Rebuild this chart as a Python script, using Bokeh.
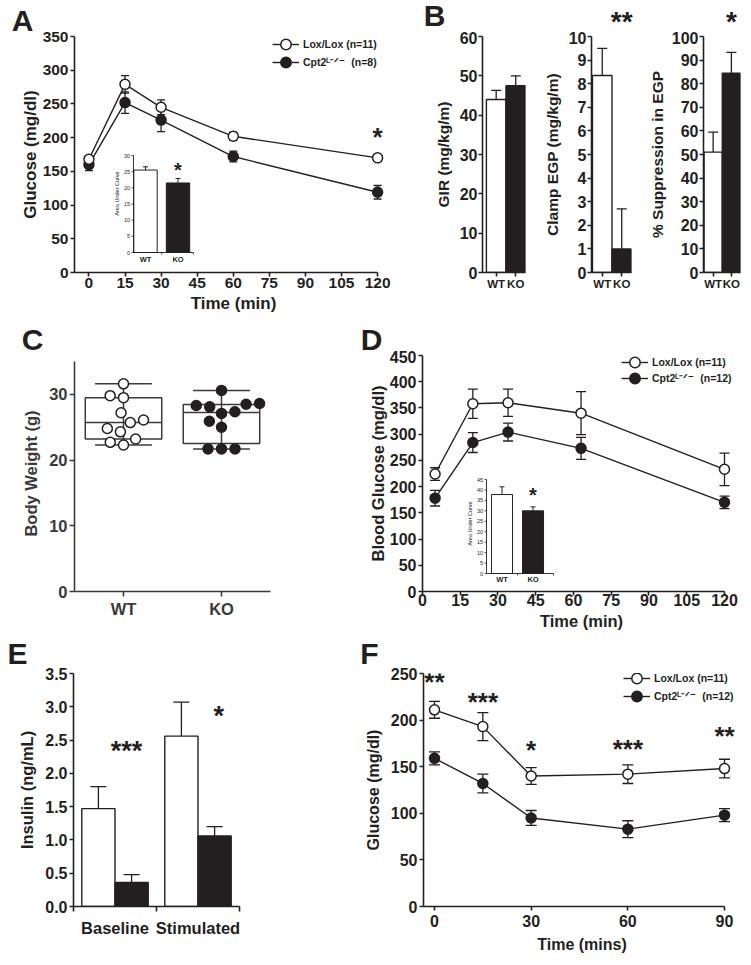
import numpy as np
from bokeh.plotting import figure
from bokeh.models import (Range1d, FixedTicker, Whisker, TeeHead, ColumnDataSource,
                          Legend, LegendItem, Label, NumeralTickFormatter)
from bokeh.layouts import row, column
from bokeh.embed import file_html
from bokeh.resources import INLINE
from bokeh.core.properties import value

FONT = "Liberation Sans"
K = "#231f20"
DG = "#3a3a3a"
PAGE_W = 751
STAR_SHIFT = 0.2   # asterisk ink centre sits this many em above the label anchor

# ---------------- data ----------------
LEG_LOX = "Lox/Lox (n=11)"
LEG_KO_A = "Cpt2\u1d38\u207b\u141f\u207b\u00a0\u00a0(n=8)"
LEG_KO_DF = "Cpt2\u1d38\u207b\u141f\u207b\u00a0\u00a0(n=12)"

# A: glucose tolerance
A_time = [0, 15, 30, 60, 120]
A_lox = [168, 279, 245, 202, 170]
A_lox_err = [5, 13, 11, 6, 3]
A_ko = [160, 252, 226, 172, 119]
A_ko_err = [9, 16, 17, 8, 10]
A_xticks = [0, 15, 30, 45, 60, 75, 90, 105, 120]
A_yticks = [0, 50, 100, 150, 200, 250, 300, 350]
A_sig = ["*"]
A_sig_x = [120]
A_sig_y = [208]
AUC_groups = ["WT", "KO"]
A_auc = [25.5, 21.5]
A_auc_err = [1.0, 1.4]
A_auc_ticks = [0, 5, 10, 15, 20, 25, 30]
A_auc_sig_y = 26.6

# B: clamp
B_groups = ["WT", "KO"]
B_gir = [44.0, 47.5]
B_gir_err = [2.3, 2.5]
B_egp = [8.35, 1.0]
B_egp_err = [1.15, 1.7]
B_sup = [51.0, 84.5]
B_sup_err = [8.5, 8.8]
B_egp_sig = "**"
B_sup_sig = "*"

# C: body weight
C_groups = ["WT", "KO"]
C_wt = [31.6, 29.8, 29.5, 27.2, 25.7, 26.1, 24.8, 24.3, 23.2, 22.3, 22.7]
C_ko = [30.6, 28.6, 28.3, 28.1, 28.5, 27.35, 27.1, 25.9, 25.0, 21.7, 21.7, 21.7]

# D: blood glucose
D_time = [5, 20, 34, 63, 120]
D_lox = [224, 358, 360, 340, 233]
D_lox_err = [12, 28, 26, 41, 31]
D_ko = [178, 284, 304, 273, 170]
D_ko_err = [15, 19, 17, 21, 12]
D_xticks = [0, 15, 30, 45, 60, 75, 90, 105, 120]
D_yticks = [0, 50, 100, 150, 200, 250, 300, 350, 400, 450]
D_auc = [37.8, 30.0]
D_auc_err = [3.7, 1.9]
D_auc_ticks = [0, 5, 10, 15, 20, 25, 30, 35, 40, 45]
D_auc_sig_y = 39.7

# E: insulin
E_groups = ["Baseline", "Stimulated"]
E_wt = [1.47, 2.56]
E_wt_err = [0.33, 0.51]
E_ko = [0.36, 1.06]
E_ko_err = [0.12, 0.14]
E_yticks = [0, 0.5, 1.0, 1.5, 2.0, 2.5, 3.0, 3.5]
E_sig = ["***", "*"]
E_sig_x = [0.14, 1.25]
E_sig_y = [2.41, 2.94]

# F: glucose (mins)
F_time = [0, 15, 30, 60, 90]
F_lox = [211, 193, 140, 142, 148]
F_lox_err = [9, 15, 9, 10, 10]
F_ko = [159, 132, 95, 83, 98]
F_ko_err = [7, 10, 8, 9, 7]
F_xticks = [0, 30, 60, 90]
F_yticks = [0, 50, 100, 150, 200, 250]
F_sig = ["**", "***", "*", "***", "**"]
F_sig_y = [246, 225, 173, 175, 188]


# ---------------- helpers ----------------
class Panel:
    def __init__(self, box, frame, xr, yr):
        self.box, self.frame, self.xr, self.yr = box, frame, xr, yr
        bx0, bx1, by0, by1 = box
        fx0, fx1, fy0, fy1 = frame
        p = figure(width=bx1 - bx0, height=by1 - by0, x_range=Range1d(*xr), y_range=Range1d(*yr),
                   output_backend="svg", toolbar_location=None, tools="", title=None)
        p.min_border_left = fx0 - bx0
        p.min_border_right = bx1 - fx1
        p.min_border_top = fy0 - by0
        p.min_border_bottom = by1 - fy1
        p.outline_line_color = None
        p.xgrid.grid_line_color = None
        p.ygrid.grid_line_color = None
        p.background_fill_color = "white"
        p.border_fill_color = "white"
        self.p = p
        self.xpu = (fx1 - fx0) / (xr[1] - xr[0])
        self.ypu = (fy1 - fy0) / (yr[1] - yr[0])

    def px(self, x):
        return self.frame[0] + (x - self.xr[0]) * self.xpu


class Strip:
    def __init__(self, y0, y1):
        self.y0, self.y1 = y0, y1
        p = figure(width=PAGE_W, height=y1 - y0, x_range=Range1d(0, PAGE_W), y_range=Range1d(0, y1 - y0),
                   x_axis_location=None, y_axis_location=None, output_backend="svg",
                   toolbar_location=None, tools="", title=None, min_border=0)
        p.outline_line_color = None
        p.grid.visible = False
        p.background_fill_color = "white"
        p.border_fill_color = "white"
        self.p = p

    def text(self, x, y_mid, text, fs):
        self.p.add_layout(Label(x=x, y=self.y1 - y_mid, text=text, text_font=FONT,
                                text_font_size=f"{fs}px", text_font_style="bold", text_color=K,
                                text_align="center", text_baseline="alphabetic"))


def style_axes(P, tick_fs, label_fs, xstand=(1, 0), ystand=(2, 3), color=K, tick_out=4):
    for ax, (s1, s2) in ((P.p.xaxis[0], xstand), (P.p.yaxis[0], ystand)):
        ax.axis_line_color = color
        ax.axis_line_width = 1.6
        ax.major_tick_line_color = color
        ax.major_tick_line_width = 1.6
        ax.major_tick_out = tick_out
        ax.major_tick_in = 0
        ax.minor_tick_line_color = None
        ax.major_label_text_font = FONT
        ax.major_label_text_font_style = "bold"
        ax.major_label_text_font_size = tick_fs
        ax.major_label_text_color = color
        ax.major_label_standoff = s1
        ax.axis_label_text_font = FONT
        ax.axis_label_text_font_style = "bold"
        ax.axis_label_text_font_size = label_fs
        ax.axis_label_text_color = color
        ax.axis_label_standoff = s2


def add_err(p, src, cap, both=True, lw=1.3, **rn):
    w = Whisker(source=src, base="x", lower="lo", upper="up", dimension="height",
                line_color=K, line_width=lw,
                upper_head=TeeHead(size=cap, line_color=K, line_width=lw),
                lower_head=TeeHead(size=cap, line_color=K, line_width=lw) if both else None,
                level="underlay", **rn)
    p.add_layout(w)


def add_star(p, x, yc, text, fs, ypu, **rn):
    p.add_layout(Label(x=x, y=yc - STAR_SHIFT * fs / ypu, text=text, text_font=FONT,
                       text_font_size=f"{fs}px", text_font_style="bold", text_color=K,
                       text_align="center", text_baseline="alphabetic", **rn))


def draw_curves(P, t, lox, lox_e, ko, ko_e, cap, labels, leg_x, leg_rows):
    p = P.p
    fx0, fx1, fy0, fy1 = P.frame
    rends = []
    for vals, errs, fill in ((ko, ko_e, K), (lox, lox_e, "white")):
        src = ColumnDataSource(dict(x=t, y=vals,
                                    lo=[v - e for v, e in zip(vals, errs)],
                                    up=[v + e for v, e in zip(vals, errs)]))
        add_err(p, src, cap)
        lr = p.line("x", "y", source=src, line_color=K, line_width=1.4)
        sr = p.scatter("x", "y", source=src, marker="circle", size=10, fill_color=fill,
                       line_color=K, line_width=1.5)
        rends.append([lr, sr])
    for lab, rr, ry in ((labels[0], rends[1], leg_rows[0]), (labels[1], rends[0], leg_rows[1])):
        leg = Legend(items=[LegendItem(label=lab, renderers=rr)],
                     location=(leg_x - fx0, fy1 - ry - 13),
                     glyph_width=27, glyph_height=26, spacing=0,
                     padding=0, margin=0, label_standoff=4, label_text_font=FONT,
                     label_text_font_size="10.5px", label_text_font_style="bold",
                     label_text_color=K, background_fill_alpha=0, border_line_alpha=0)
        p.add_layout(leg)


def swarm(vals, xpu, ypu, gap):
    order = np.argsort(vals, kind="stable")
    placed = []
    offs = [0.0] * len(vals)
    for i in order:
        y = vals[i] * ypu
        iv = []
        for py, px in placed:
            d = abs(y - py)
            if d < gap:
                h = np.sqrt(gap ** 2 - d ** 2)
                iv.append((px - h, px + h))
        cands = [0.0] + [a for a, b in iv] + [b for a, b in iv]
        cands.sort(key=lambda c: (abs(c), c))
        x = 0.0
        for c in cands:
            if all(not (a + 1e-6 < c < b - 1e-6) for a, b in iv):
                x = c
                break
        placed.append((y, x))
        offs[i] = x / xpu
    return offs


def draw_inset(P, geo, vals, errs, ticks, sig_y):
    p = P.p
    fx0, fx1, fy0, fy1 = P.frame
    ox, oy, xu, yu = geo["ox"], geo["oy"], geo["xu"], geo["yu"]
    p.extra_x_ranges = {"ix": Range1d((fx0 - ox) / xu, (fx1 - ox) / xu)}
    p.extra_y_ranges = {"iy": Range1d((oy - fy1) / yu, (oy - fy0) / yu)}
    rn = dict(x_range_name="ix", y_range_name="iy")
    xs = list(range(len(vals)))
    src = ColumnDataSource(dict(x=xs, lo=vals, up=[v + e for v, e in zip(vals, errs)]))
    add_err(p, src, 5, both=False, lw=1.0, **rn)
    p.vbar(x=xs, top=vals, bottom=0, width=geo["bw"], fill_color=["white", K],
           line_color=K, line_width=1.0, **rn)
    axl = (geo["axl"] - ox) / xu
    axr = (geo["axr"] - ox) / xu
    top = ticks[-1]
    p.segment(x0=[axl, axl], y0=[0, 0], x1=[axl, axr], y1=[top, 0], line_color=K, line_width=0.9, **rn)
    tl = 2.0 / xu
    p.segment(x0=[axl] * len(ticks), y0=ticks, x1=[axl - tl] * len(ticks), y1=ticks,
              line_color=K, line_width=0.8, **rn)
    tly = 2.0 / yu
    p.segment(x0=[0.5, axr], y0=[0, 0], x1=[0.5, axr], y1=[-tly, -tly], line_color=K, line_width=0.8, **rn)
    p.text(x=[axl - 3.5 / xu] * len(ticks), y=ticks, text=[str(t) for t in ticks],
           text_align="right", text_baseline="middle", text_font=value(FONT),
           text_font_size="5.5px", text_color=K, **rn)
    p.text(x=xs, y=[(oy - geo["laby"]) / yu] * len(xs), text=AUC_groups, text_align="center",
           text_baseline="middle", text_font=value(FONT), text_font_size="7.5px",
           text_font_style="bold", text_color=K, **rn)
    p.text(x=[(geo["tx"] - ox) / xu], y=[(oy - geo["ty"]) / yu], text=["Area Under Curve"],
           angle=np.pi / 2, text_align="center", text_baseline="middle", text_font=value(FONT),
           text_font_size="5.5px", text_color=K, **rn)
    add_star(p, 1, sig_y, "*", 20, yu, **rn)


# ---------------- panel A ----------------
PA = Panel((0, 392, 31, 322), (74, 392, 36, 272), (-6, 126.2), (0, 350))
pa = PA.p
pa.xaxis.ticker = FixedTicker(ticks=A_xticks)
pa.yaxis.ticker = FixedTicker(ticks=A_yticks)
pa.xaxis.bounds = (-6, 120)
pa.xaxis.axis_label = "Time (min)"
pa.yaxis.axis_label = "Glucose (mg/dl)"
style_axes(PA, "15.5px", "17px", xstand=(1, 3), ystand=(2, 0))
draw_inset(PA, dict(ox=145, oy=252, xu=32.5, yu=97 / 30, bw=0.72, axl=133, axr=193,
                    laby=259, tx=116, ty=193), A_auc, A_auc_err, A_auc_ticks, A_auc_sig_y)
draw_curves(PA, A_time, A_lox, A_lox_err, A_ko, A_ko_err, 8, [LEG_LOX, LEG_KO_A], 272, (44, 62))
for s, x, y in zip(A_sig, A_sig_x, A_sig_y):
    add_star(pa, x, y, s, 26, PA.ypu)


# ---------------- panel B ----------------
def make_B(box, frame, xr, yr, vals, errs, yticks, ylabel, lab_standoff):
    P = Panel(box, frame, xr, yr)
    p = P.p
    p.vbar(x=[0, 1], top=vals, bottom=0, width=1, fill_color=["white", K], line_color=K, line_width=1.4)
    src = ColumnDataSource(dict(x=[0, 1], lo=vals, up=[v + e for v, e in zip(vals, errs)]))
    add_err(p, src, 10, both=False)
    p.xaxis.ticker = FixedTicker(ticks=[0, 1])
    p.xaxis.major_label_overrides = {0: B_groups[0], 1: B_groups[1]}
    p.yaxis.ticker = FixedTicker(ticks=yticks)
    p.yaxis.axis_label = ylabel
    style_axes(P, "16px", "15.5px", xstand=(1, 0), ystand=(1, lab_standoff))
    p.xaxis.major_label_text_font_size = "11.5px"
    return P


PB1 = make_B((392, 540, 31, 322), (482, 525, 36, 272), (-0.7, 1.5), (0, 60), B_gir, B_gir_err,
             [0, 10, 20, 30, 40, 50, 60], "GIR (mg/kg/m)", 5)
PB2 = make_B((540, 645, 31, 322), (591, 631, 36, 272), (-0.55, 1.5), (0, 10), B_egp, B_egp_err,
             list(range(0, 11)), "Clamp EGP (mg/kg/m)", 5)
PB3 = make_B((645, 751, 31, 322), (703, 740, 36, 272), (-0.53, 1.5), (0, 100), B_sup, B_sup_err,
             list(range(0, 101, 10)), "% Suppression in EGP", 3)

# ---------------- panel C ----------------
# frame shares its top edge with panel D (row alignment); the axis is bounded at 35
PC = Panel((0, 358, 350, 638), (74, 270, 355, 591), (-0.5, 1.5), (0, 35.913))
pc = PC.p
for i, (vals, fill) in enumerate(((C_wt, "white"), (C_ko, K))):
    q1, med, q3 = np.percentile(vals, [25, 50, 75], method="weibull")
    lo, hi = min(vals), max(vals)
    pc.quad(left=[i - 0.39], right=[i + 0.39], bottom=[q1], top=[q3], fill_color=None,
            line_color=DG, line_width=1.5)
    pc.segment(x0=[i - 0.39, i, i - 0.29, i - 0.29], y0=[med, lo, lo, hi],
               x1=[i + 0.39, i, i + 0.29, i + 0.29], y1=[med, hi, lo, hi],
               line_color=DG, line_width=1.5)
    offs = swarm(vals, PC.xpu, PC.ypu, 13.5)
    pc.scatter(x=[i + o for o in offs], y=vals, marker="circle", size=10, fill_color=fill,
               line_color=K, line_width=1.5)
pc.xaxis.ticker = FixedTicker(ticks=[0, 1])
pc.xaxis.major_label_overrides = {0: C_groups[0], 1: C_groups[1]}
pc.yaxis.ticker = FixedTicker(ticks=[0, 10, 20, 30])
pc.yaxis.bounds = (0, 35)
pc.yaxis.axis_label = "Body Weight (g)"
style_axes(PC, "16.5px", "16.5px", xstand=(3, 0), ystand=(2, 6), color=DG, tick_out=5)

# ---------------- panel D ----------------
PD = Panel((358, 751, 350, 638), (422, 740, 355, 591), (0, 126.36), (0, 450))
pd_ = PD.p
pd_.xaxis.ticker = FixedTicker(ticks=D_xticks)
pd_.yaxis.ticker = FixedTicker(ticks=D_yticks)
pd_.xaxis.bounds = (0, 120)
pd_.xaxis.axis_label = "Time (min)"
pd_.yaxis.axis_label = "Blood Glucose (mg/dl)"
style_axes(PD, "16px", "16.5px", xstand=(-2, 3), ystand=(2, 0))
draw_inset(PD, dict(ox=501.5, oy=573, xu=31, yu=94 / 45, bw=0.68, axl=486, axr=553,
                    laby=579, tx=469, ty=523), D_auc, D_auc_err, D_auc_ticks, D_auc_sig_y)
draw_curves(PD, D_time, D_lox, D_lox_err, D_ko, D_ko_err, 10, [LEG_LOX, LEG_KO_DF], 621, (362, 378))

# ---------------- panel E ----------------
PE = Panel((0, 358, 666, 963), (73, 239, 673, 906), (-0.5, 1.5), (0, 3.5))
pe = PE.p
xs = list(range(len(E_groups)))
for off, vals, errs, fill in ((-0.2, E_wt, E_wt_err, "white"), (0.2, E_ko, E_ko_err, K)):
    bx = [x + off for x in xs]
    src = ColumnDataSource(dict(x=bx, lo=vals, up=[v + e for v, e in zip(vals, errs)]))
    add_err(pe, src, 16, both=False)
    pe.vbar(x=bx, top=vals, bottom=0, width=0.4, fill_color=fill, line_color=K, line_width=1.4)
pe.xaxis.ticker = FixedTicker(ticks=xs, minor_ticks=[-0.5, 0.5, 1.5])
pe.xaxis.major_label_overrides = {0: E_groups[0], 1: E_groups[1]}
pe.yaxis.ticker = FixedTicker(ticks=E_yticks)
pe.yaxis.formatter = NumeralTickFormatter(format="0.0")
pe.yaxis.axis_label = "Insulin (ng/mL)"
style_axes(PE, "16px", "16.5px", xstand=(7, 0), ystand=(2, 6))
pe.xaxis.major_tick_out = 0
pe.xaxis.minor_tick_out = 5
pe.xaxis.minor_tick_in = 0
pe.xaxis.minor_tick_line_color = K
pe.xaxis.minor_tick_line_width = 1.6
pe.xaxis.major_label_text_font_size = "16.5px"
for s, x, y in zip(E_sig, E_sig_x, E_sig_y):
    add_star(pe, x, y, s, 27, PE.ypu)

# ---------------- panel F ----------------
PF = Panel((358, 751, 666, 963), (423, 740, 673, 906), (-3.41, 94.96), (0, 250))
pf = PF.p
pf.xaxis.ticker = FixedTicker(ticks=F_xticks)
pf.yaxis.ticker = FixedTicker(ticks=F_yticks)
pf.xaxis.bounds = (-3.41, 90)
pf.xaxis.axis_label = "Time (mins)"
pf.yaxis.axis_label = "Glucose (mg/dl)"
style_axes(PF, "16px", "16px", xstand=(4, 6), ystand=(2, 6))
draw_curves(PF, F_time, F_lox, F_lox_err, F_ko, F_ko_err, 11, [LEG_LOX, LEG_KO_DF], 623, (678, 696))
for s, x, y in zip(F_sig, F_time, F_sig_y):
    add_star(pf, x, y, s, 26, PF.ypu)

# ---------------- strips: panel letters and stars above B ----------------
S1 = Strip(0, 31)
S1.text(22, 20, "A", 30)
S1.text(434, 15, "B", 30)
S1.text(PB2.px(1), 15 + STAR_SHIFT * 28, B_egp_sig, 28)
S1.text(PB3.px(1), 15 + STAR_SHIFT * 28, B_sup_sig, 28)
S2 = Strip(322, 350)
S2.text(32, 338.5, "C", 30)
S2.text(371, 338.5, "D", 30)
S3 = Strip(638, 666)
S3.text(17, 652.5, "E", 30)
S3.text(369, 652.5, "F", 30)

layout = column(S1.p, row(pa, PB1.p, PB2.p, PB3.p), S2.p, row(pc, pd_), S3.p, row(pe, pf))
open("out.html", "w").write(file_html(layout, INLINE))
